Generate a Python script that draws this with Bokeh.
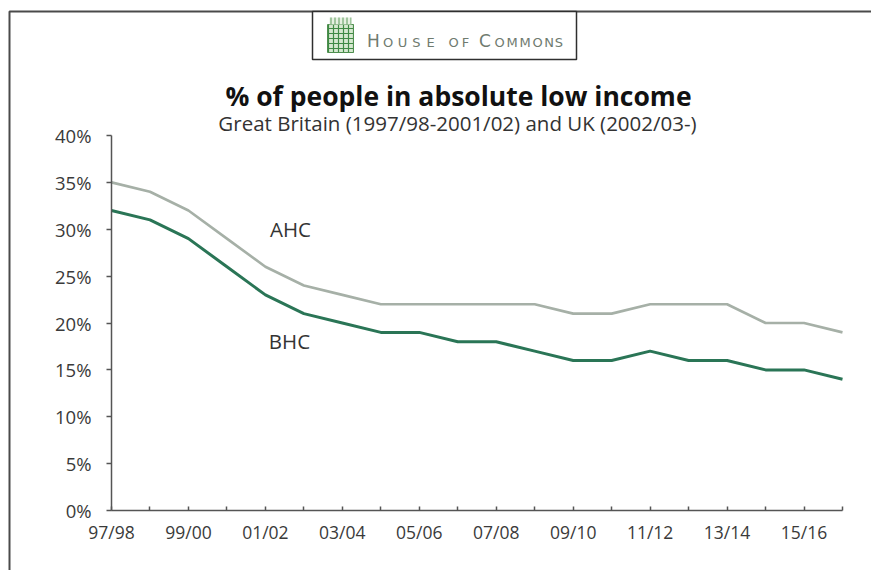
from bokeh.plotting import figure
from bokeh.models import (Range1d, FixedTicker, PrintfTickFormatter, Label,
                          BoxAnnotation, LinearAxis)
from bokeh.embed import file_html
from bokeh.resources import INLINE

# ---- data ----
years = ["97/98", "98/99", "99/00", "00/01", "01/02", "02/03", "03/04", "04/05",
         "05/06", "06/07", "07/08", "08/09", "09/10", "10/11", "11/12", "12/13",
         "13/14", "14/15", "15/16", "16/17"]
ahc = [35, 34, 32, 29, 26, 24, 23, 22, 22, 22, 22, 22, 21, 21, 22, 22, 22, 20, 20, 19]
bhc = [32, 31, 29, 26, 23, 21, 20, 19, 19, 18, 18, 17, 16, 16, 17, 16, 16, 15, 15, 14]
y_ticks = [0, 5, 10, 15, 20, 25, 30, 35, 40]

title_text = "% of people in absolute low income"
subtitle_text = "Great Britain (1997/98-2001/02) and UK (2002/03-)"

FONT = "Open Sans"
LOGO_FONT = "DejaVu Sans"
LOGO_COLOR = "#6f7b6f"

W, H = 871, 570
# page pixel -> data helpers (layout only)
X0, XS = 111.0, 731.0 / (len(years) - 1)
Y0, YS = 510.0, 375.0 / 40.0
def dx(px):
    return (px - X0) / XS
def dy(py):
    return (Y0 - py) / YS

p = figure(width=W, height=H, output_backend="svg", toolbar_location=None,
           x_range=Range1d(dx(0), dx(W)), y_range=Range1d(dy(H), dy(0)),
           min_border=0, x_axis_type=None, y_axis_type=None)
p.outline_line_color = None
p.background_fill_color = "white"
p.border_fill_color = "white"
p.xgrid.visible = False
p.ygrid.visible = False

# axes, fixed at the data origin
xa = LinearAxis(ticker=FixedTicker(ticks=list(range(len(years)))),
                fixed_location=0, bounds=(0, len(years) - 1))
xa.major_label_overrides = {i: (years[i] if i % 2 == 0 else "") for i in range(len(years))}
xa.axis_line_color = "#555555"
xa.axis_line_width = 1.5
xa.major_tick_line_color = "#555555"
xa.major_tick_line_width = 1.5
xa.major_tick_in = 4
xa.major_tick_out = 0
xa.minor_tick_line_color = None
xa.major_label_standoff = 9
xa.major_label_text_font = FONT
xa.major_label_text_font_size = "17.5px"
xa.major_label_text_color = "#3a3a3a"
p.add_layout(xa, "below")

ya = LinearAxis(ticker=FixedTicker(ticks=y_ticks), formatter=PrintfTickFormatter(format="%d%%"),
                fixed_location=0, bounds=(0, 40))
ya.axis_line_color = "#555555"
ya.axis_line_width = 1.5
ya.major_tick_line_color = "#555555"
ya.major_tick_line_width = 1.5
ya.major_tick_in = 0
ya.major_tick_out = 5
ya.minor_tick_line_color = None
ya.major_label_standoff = 15
ya.major_label_text_font = FONT
ya.major_label_text_font_size = "18.5px"
ya.major_label_text_color = "#3a3a3a"
p.add_layout(ya, "left")

xs = list(range(len(years)))
p.line(xs, ahc, line_color="#a6b0a7", line_width=2.6)
p.line(xs, bhc, line_color="#2a7556", line_width=3)

# series labels
p.add_layout(Label(x=dx(290), y=dy(228), text="AHC", text_align="center",
                   text_baseline="middle", text_font=FONT, text_font_size="20.5px",
                   text_color="#333333"))
p.add_layout(Label(x=dx(289), y=dy(340), text="BHC", text_align="center",
                   text_baseline="middle", text_font=FONT, text_font_size="20.5px",
                   text_color="#333333"))

# outer frame (left + top lines)
p.add_layout(BoxAnnotation(left=dx(9), right=dx(1000), top=dy(11), bottom=dy(700),
                           fill_color=None, line_color="#4a4a4a", line_alpha=1,
                           line_width=2))
# logo box
p.add_layout(BoxAnnotation(left=dx(312), right=dx(576), top=dy(11), bottom=dy(59),
                           fill_color="white", fill_alpha=1, line_color="#2f2f2f",
                           line_alpha=1, line_width=1.5))
p.add_layout(BoxAnnotation(left=dx(327), right=dx(353), top=dy(24), bottom=dy(52),
                           fill_color="#d6e8d0", fill_alpha=1, line_color="#4f8f4f",
                           line_alpha=1, line_width=1, hatch_pattern="+",
                           hatch_color="#3f8a45", hatch_alpha=1,
                           hatch_scale=5, hatch_weight=1.2))
p.add_layout(BoxAnnotation(left=dx(329), right=dx(351), top=dy(17), bottom=dy(24),
                           fill_color="#e6f0e2", fill_alpha=1, line_color=None,
                           hatch_pattern="|", hatch_color="#5a9a5a", hatch_alpha=1,
                           hatch_scale=4, hatch_weight=1))

# logo lettering (small caps), baseline ~47px
def base(py, size):
    return dy(py - 0.38 * size)

logo_letters = [("H", 373, 17), ("O", 387.5, 13), ("U", 402, 13), ("S", 416, 13),
                ("E", 430, 13), ("O", 453, 13), ("F", 465, 13), ("C", 484.5, 17),
                ("O", 499, 13), ("M", 511.5, 13), ("M", 524.5, 13), ("O", 537, 13),
                ("N", 548.5, 13), ("S", 558.5, 13)]
for txt, px, size in logo_letters:
    p.add_layout(Label(x=dx(px), y=base(47, size), text=txt, text_font=LOGO_FONT,
                       text_font_size=f"{size}px", text_color=LOGO_COLOR,
                       text_align="center", text_baseline="alphabetic"))

# titles
p.add_layout(Label(x=dx(458), y=base(106, 26.5), text=title_text, text_align="center",
                   text_baseline="alphabetic",
                   text_font=FONT, text_font_size="26.5px", text_font_style="bold",
                   text_color="#111111"))
p.add_layout(Label(x=dx(457), y=base(130, 20.5), text=subtitle_text, text_align="center",
                   text_baseline="alphabetic",
                   text_font=FONT, text_font_size="20.5px", text_color="#333333"))

open("out.html", "w").write(file_html(p, INLINE))
